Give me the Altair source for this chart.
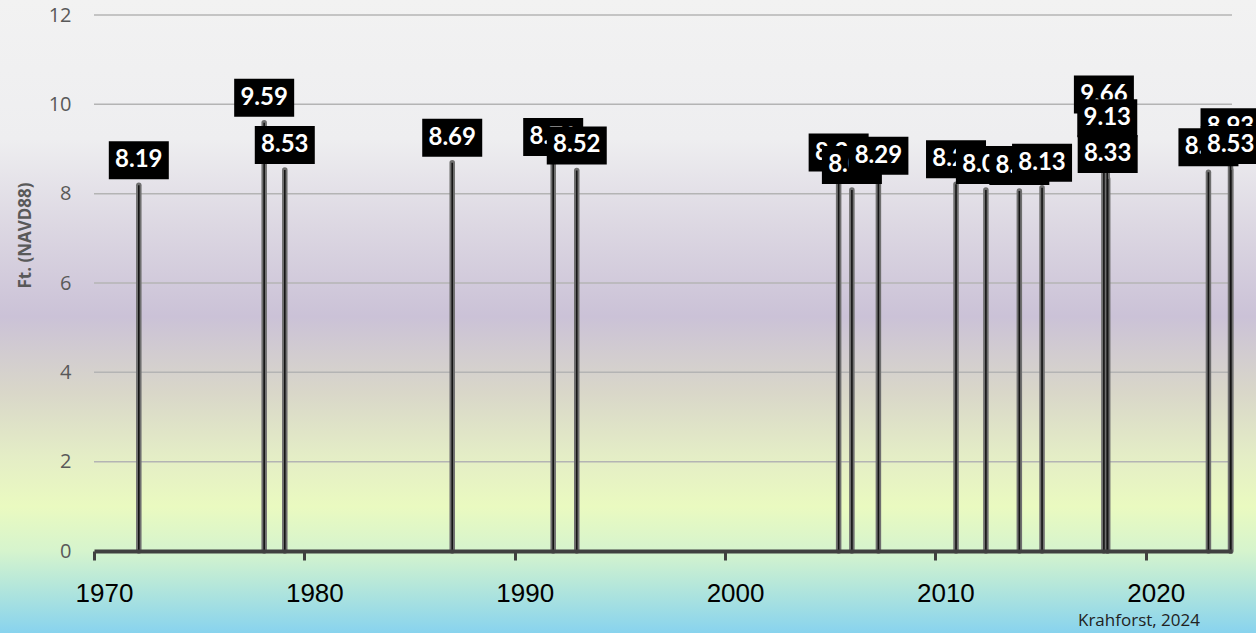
import altair as alt
import pandas as pd

# Storm-tide events (decimal year) and peak water level (ft NAVD88)
years = [1972.13, 1978.09, 1979.07, 1987.03, 1991.83, 1992.95,
         2005.40, 2006.03, 2007.29, 2010.98, 2012.40, 2013.99, 2015.07,
         2018.01, 2018.17, 2018.19, 2022.98, 2024.03, 2024.04]
values = [8.19, 9.59, 8.53, 8.69, 8.71, 8.52,
          8.36, 8.08, 8.29, 8.21, 8.08, 8.06, 8.13,
          9.66, 9.13, 8.33, 8.48, 8.93, 8.53]
x_ticks = [1970, 1980, 1990, 2000, 2010, 2020]
y_ticks = [0, 2, 4, 6, 8, 10, 12]
grid_levels = [2, 4, 6, 8, 10, 12]

df = pd.DataFrame({"idx": list(range(len(years))), "year": years, "val": values})
gdf = pd.DataFrame({"g": grid_levels})

W, H = 1138, 536
PAD = {"left": 94, "top": 15, "right": 24, "bottom": 82}

xs = alt.Scale(domain=[1970, 2024.1], nice=False, zero=False)
ys = alt.Scale(domain=[0, 12], nice=False)

grad = alt.LinearGradient(
    gradient="linear", x1=0, x2=0, y1=0, y2=1,
    stops=[
        alt.GradientStop(offset=0.0, color="#f2f2f2"),
        alt.GradientStop(offset=0.22, color="#eeeef0"),
        alt.GradientStop(offset=0.36, color="#dcd7e2"),
        alt.GradientStop(offset=0.50, color="#cbc2d7"),
        alt.GradientStop(offset=0.62, color="#d9d7c9"),
        alt.GradientStop(offset=0.72, color="#e4edc6"),
        alt.GradientStop(offset=0.80, color="#eafac0"),
        alt.GradientStop(offset=0.87, color="#d6f4cd"),
        alt.GradientStop(offset=0.92, color="#b8e8d9"),
        alt.GradientStop(offset=1.0, color="#88d3ee"),
    ],
)

bg = alt.Chart(df).mark_rect(color=grad).encode(
    x=alt.value(-PAD["left"]), x2=alt.value(W + PAD["right"]),
    y=alt.value(-PAD["top"]), y2=alt.value(H + PAD["bottom"]),
).transform_filter(alt.datum.idx == 0)

grid = alt.Chart(gdf).mark_rule(color="#b4b4b4", strokeWidth=1.5).encode(
    y=alt.Y("g:Q", scale=ys), x=alt.value(0), x2=alt.value(W))

base = alt.Chart(df)

bars_outer = base.mark_rule(color="#6f6f6f", strokeWidth=5.5, strokeCap="round").encode(
    x=alt.X("year:Q", scale=xs, axis=alt.Axis(
        values=x_ticks, format="d", grid=False, title=None, zindex=1,
        domainColor="#404040", domainWidth=4, tickColor="#404040", tickWidth=3,
        tickSize=9, labelFont="Liberation Sans", labelFontSize=26, labelColor="black",
        labelPadding=20, labelOffset=10, labelFlush=False)),
    y=alt.Y("val:Q", scale=ys, axis=alt.Axis(
        values=y_ticks, grid=False, zindex=1,
        domain=False, ticks=False, labelPadding=23, labelFont="Open Sans",
        labelFontSize=20, labelColor="#595959",
        title="Ft. (NAVD88)", titleFont="Open Sans", titleFontWeight="bold",
        titleFontSize=17, titleColor="#595959", titleX=-69, titleY=220,
        titleBaseline="middle")),
    y2=alt.datum(0),
)
bars_inner = base.mark_rule(color="#151515", strokeWidth=1.6).encode(
    x=alt.X("year:Q", scale=xs), y=alt.Y("val:Q", scale=ys), y2=alt.datum(0))

layers = [bg, grid, bars_outer, bars_inner]
for i in range(len(years)):
    sub = base.transform_filter(alt.datum.idx == i)
    box = sub.mark_rect(color="black", width=60, height=38, yOffset=-25).encode(
        x=alt.X("year:Q", scale=xs), y=alt.Y("val:Q", scale=ys))
    txt = sub.mark_text(color="white", font="Lato", fontWeight="bold", fontSize=24,
                        yOffset=-25, baseline="middle", align="center").encode(
        x=alt.X("year:Q", scale=xs), y=alt.Y("val:Q", scale=ys),
        text=alt.Text("val:Q", format=".2f"))
    layers += [box, txt]

credit = alt.Chart(df).transform_filter(alt.datum.idx == 0).mark_text(
    text="Krahforst, 2024", font="Open Sans", fontSize=17, color="#222222",
    align="right", baseline="middle").encode(
    x=alt.value(1200 - PAD["left"]), y=alt.value(621 - PAD["top"]))
layers.append(credit)

chart = alt.layer(*layers).properties(
    width=W, height=H,
    autosize=alt.AutoSizeParams(type="none"),
    padding=PAD,
).configure_view(strokeWidth=0).configure(background="#f2f2f2")

chart.save("out.html", embed_options={"renderer": "svg", "actions": False})
